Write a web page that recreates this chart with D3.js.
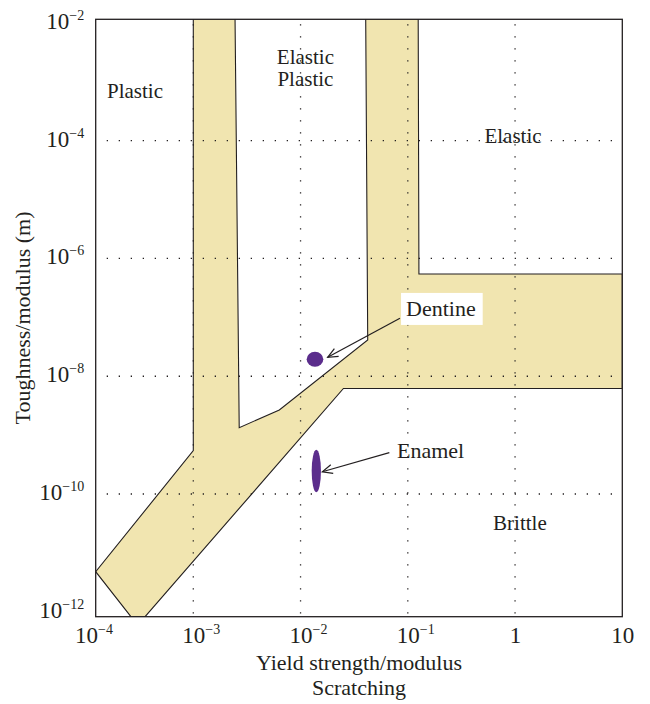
<!DOCTYPE html>
<html>
<head>
<meta charset="utf-8">
<script src="https://cdn.jsdelivr.net/npm/d3@7/dist/d3.min.js"></script>
<style>
  body { margin: 0; background: #fff; }
  text { font-family: "Liberation Serif", "Times New Roman", serif; fill: #231f20; }
</style>
</head>
<body>
<svg id="chart" width="650" height="704"></svg>
<script>
// Axis ticks (yield strength/modulus vs toughness/modulus, both logarithmic)
const xTicks = [1e-4, 1e-3, 1e-2, 1e-1, 1, 10];
const xTickLabels = [["10", "−4"], ["10", "−3"], ["10", "−2"], ["10", "−1"], ["1", ""], ["10", ""]];
const yTicks = [1e-12, 1e-10, 1e-8, 1e-6, 1e-4, 1e-2];
const yTickLabels = [["10", "−12"], ["10", "−10"], ["10", "−8"], ["10", "−6"], ["10", "−4"], ["10", "−2"]];

// Transition zone between the wear regimes, traced as one closed outline [x, y]
const zoneX = [1e-3, 2.45e-3, 2.68e-3, 6.34e-3, 4.23e-2, 4.05e-2, 0.125, 0.127, 10, 10, 2.51e-2, 3.55e-4, 2.62e-4, 1.23e-4, 1e-3];
const zoneY = [1.2e-2, 1.2e-2, 1.34e-9, 2.67e-9, 4.12e-8, 1.2e-2, 1.2e-2, 5.45e-7, 5.45e-7, 6.2e-9, 6.2e-9, 8.26e-13, 8.26e-13, 4.8e-12, 5.45e-10];

// Regime names and where they sit (x, y of the text baseline centre)
const regionNames = [["Plastic"], ["Elastic", "Plastic"], ["Elastic"], ["Brittle"]];
const regionX = [2.86e-4, 1.11e-2, 0.957, 1.11];
const regionY = [5.3e-4, 2.0e-3, 9.1e-5, 2.45e-11];

// Dental tissues: extent of each blob in x and y
const tissueNames = ["Dentine", "Enamel"];
const tissueX = [[1.14e-2, 1.63e-2], [1.27e-2, 1.55e-2]];
const tissueY = [[1.45e-8, 2.61e-8], [1.07e-10, 5.66e-10]];

// Callouts: label anchor, arrow tail and arrow tip for each tissue
const labelAt = [[0.0865, 1.39e-7], [0.0793, 5.37e-10]];
const arrowTail = [[0.0845, 9.64e-8], [0.0673, 5.04e-10]];
const arrowTip = [[0.0179, 2.10e-8], [0.01596, 2.39e-10]];

const ink = "#231f20";
const zoneFill = "#f1e5b0";
const tissueFill = "#5b2d8c";

const svg = d3.select("#chart");
const frame = { left: 95.7, right: 622.3, top: 19.3, bottom: 616.7 };

const x = d3.scaleLog().domain([1e-4, 10]).range([86.05, 622.3]);
const y = d3.scaleLog().domain([1e-12, 1e-2]).range([611.8, 22.9]);

svg.append("defs").append("clipPath").attr("id", "plot-clip")
  .append("rect")
  .attr("x", frame.left).attr("y", frame.top)
  .attr("width", frame.right - frame.left).attr("height", frame.bottom - frame.top);

const plot = svg.append("g").attr("clip-path", "url(#plot-clip)");

// Transition zone
const zone = zoneX.map((v, i) => [x(v), y(zoneY[i])]);
plot.append("path")
  .attr("d", d3.line()(zone) + "Z")
  .attr("fill", zoneFill)
  .attr("stroke", ink)
  .attr("stroke-width", 1.1)
  .attr("stroke-linejoin", "miter");

// Dotted grid at each interior decade
const grid = plot.append("g")
  .attr("stroke", ink)
  .attr("stroke-width", 1.3)
  .attr("stroke-dasharray", "1.3 10.7");
xTicks.slice(1, -1).forEach(t => {
  grid.append("line")
    .attr("x1", x(t)).attr("x2", x(t))
    .attr("y1", frame.top + 5).attr("y2", frame.bottom);
});
yTicks.slice(1, -1).forEach(t => {
  grid.append("line")
    .attr("x1", frame.left + 11).attr("x2", frame.right)
    .attr("y1", y(t)).attr("y2", y(t));
});

// Tissue blobs
tissueNames.forEach((name, i) => {
  const [x0, x1] = tissueX[i].map(x);
  const [y0, y1] = tissueY[i].map(y);
  plot.append("ellipse")
    .attr("cx", (x0 + x1) / 2).attr("cy", (y0 + y1) / 2)
    .attr("rx", Math.abs(x1 - x0) / 2).attr("ry", Math.abs(y1 - y0) / 2)
    .attr("fill", tissueFill);
});

// Callout arrows with open heads
tissueNames.forEach((name, i) => {
  const tx = x(arrowTail[i][0]), ty = y(arrowTail[i][1]);
  const hx = x(arrowTip[i][0]), hy = y(arrowTip[i][1]);
  const ang = Math.atan2(ty - hy, tx - hx);
  const len = 11, spread = 0.42;
  const g = svg.append("g").attr("stroke", ink).attr("stroke-width", 1.2).attr("fill", "none");
  g.append("line").attr("x1", tx).attr("y1", ty).attr("x2", hx).attr("y2", hy);
  g.append("path").attr("d", d3.line()([
    [hx + len * Math.cos(ang + spread), hy + len * Math.sin(ang + spread)],
    [hx, hy],
    [hx + len * Math.cos(ang - spread), hy + len * Math.sin(ang - spread)]
  ]));
});

// Callout labels (Dentine sits on a white card over the zone)
tissueNames.forEach((name, i) => {
  const lx = x(labelAt[i][0]), ly = y(labelAt[i][1]);
  const card = svg.append("rect").attr("fill", i === 0 ? "#fff" : "none");
  const t = svg.append("text")
    .attr("x", lx + (i === 0 ? 5 : 0)).attr("y", ly + 7)
    .attr("font-size", 22)
    .text(name);
  if (i === 0) {
    const b = t.node().getBBox();
    card.attr("x", lx).attr("y", ly - 16)
      .attr("width", b.width + 12).attr("height", 32);
  }
});

// Regime names
regionNames.forEach((lines, i) => {
  const t = svg.append("text")
    .attr("text-anchor", "middle")
    .attr("font-size", 21);
  lines.forEach((s, j) => {
    t.append("tspan").attr("x", x(regionX[i])).attr("y", y(regionY[i]) + j * 22).text(s);
  });
});

// Frame
svg.append("rect")
  .attr("x", frame.left).attr("y", frame.top)
  .attr("width", frame.right - frame.left).attr("height", frame.bottom - frame.top)
  .attr("fill", "none").attr("stroke", ink).attr("stroke-width", 1.3);

// Axes: labels only, no tick marks or domain line
const xAxis = svg.append("g")
  .attr("transform", `translate(0,${frame.bottom})`)
  .call(d3.axisBottom(x).tickValues(xTicks).tickSize(0).tickFormat(() => ""));
xAxis.select(".domain").remove();
xAxis.selectAll(".tick").each(function(d, i) {
  const g = d3.select(this);
  g.select("text").remove();
  const [base, sup] = xTickLabels[i];
  // the base "10" (or "1") is centred on the tick; the exponent trails to the right
  const t = g.append("text").attr("y", 26).attr("font-size", 23)
    .attr("text-anchor", "start").attr("fill", ink);
  const b = t.append("tspan").text(base);
  if (sup) t.append("tspan").attr("dy", -9).attr("font-size", 14).text(sup);
  const w = b.node().getComputedTextLength();
  t.attr("x", -w / 2);
});

const yAxis = svg.append("g")
  .attr("transform", `translate(${frame.left},0)`)
  .call(d3.axisLeft(y).tickValues(yTicks).tickSize(0).tickFormat(() => ""));
yAxis.select(".domain").remove();
yAxis.selectAll(".tick").each(function(d, i) {
  const g = d3.select(this);
  g.select("text").remove();
  const [base, sup] = yTickLabels[i];
  const t = g.append("text").attr("x", -11.5).attr("y", 5.5)
    .attr("text-anchor", "end").attr("font-size", 23).attr("fill", ink);
  t.append("tspan").text(base);
  if (sup) t.append("tspan").attr("dy", -9).attr("font-size", 14).text(sup);
});

// Axis titles
const cx = (frame.left + frame.right) / 2;
svg.append("text").attr("text-anchor", "middle").attr("font-size", 22)
  .attr("x", cx).attr("y", 670).text("Yield strength/modulus");
svg.append("text").attr("text-anchor", "middle").attr("font-size", 22)
  .attr("x", cx).attr("y", 695).text("Scratching");

svg.append("text")
  .attr("text-anchor", "middle").attr("font-size", 22)
  .attr("transform", `translate(30,${(frame.top + frame.bottom) / 2}) rotate(-90)`)
  .text("Toughness/modulus (m)");
</script>
</body>
</html>
